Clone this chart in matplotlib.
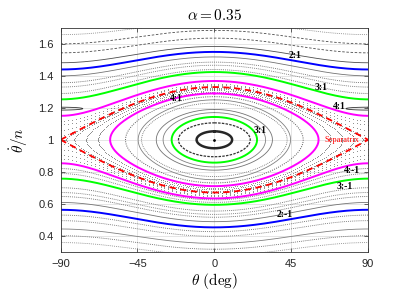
import matplotlib
matplotlib.use("Agg")
import matplotlib.pyplot as plt
from matplotlib.ticker import FormatStrFormatter
import numpy as np

alpha = 0.35

# resonance curves (rotational): value at theta=+-90 and at theta=0
res_names = ["2:1", "3:1", "4:1", "4:-1", "3:-1", "2:-1"]
res_y90 = [1.44, 1.253, 1.15, 0.853, 0.757, 0.562]
res_y0 = [1.55, 1.424, 1.368, 0.633, 0.593, 0.452]
res_label_x = [47, 62.7, 73.4, 80.3, 76.3, 41.3]
res_label_y = [1.53, 1.33, 1.21, 0.81, 0.705, 0.53]

# grey rotational orbits, value at theta=+-90
grey_y90 = [1.658, 1.60, 1.544, 1.482, 1.40, 1.357, 1.33, 1.29,
            0.82, 0.789, 0.70, 0.67, 0.645, 0.608, 0.529, 0.494, 0.442, 0.40, 0.357]
rot_amp = 0.33   # modulation

# libration rings around (0, 1): half width (deg), half height
lib_hw = [10.4, 21, 30, 34, 42.6, 44.6, 52]
lib_hh = [0.053, 0.106, 0.17, 0.19, 0.23, 0.25, 0.27]
lib_res_hw = [25, 61]       # 3:1 (green), 4:1 (magenta)
lib_res_hh = [0.143, 0.29]

# separatrix half height at theta = 0
sep_amp = 0.33

# chaotic layer orbits near separatrix
chaos_rot_d = [0.025, 0.06, 0.095, 0.12]
chaos_lib_hw = [68, 75, 82, 87]
chaos_lib_hh = [0.30, 0.31, 0.32, 0.325]

# 4:1 islands at theta = +-90
island_y = 1.195

plt.rcParams["font.family"] = ["Liberation Sans", "DejaVu Sans"]
plt.rcParams["mathtext.fontset"] = "cm"

th = np.linspace(-90, 90, 721)
cth = np.cos(np.radians(th))


def rot_curve(y90, y0):
    d = y90 - 1
    e = y0 - 1
    return 1 + np.sign(d) * np.sqrt(d ** 2 + (e ** 2 - d ** 2) * cth ** 2)


def lib_curve(hw, hh, n=400):
    phi = np.linspace(0, 2 * np.pi, n)
    sm = np.sin(np.radians(hw))
    return np.degrees(np.arcsin(sm * np.sin(phi))), 1 + hh * np.cos(phi)


fig = plt.figure(figsize=(4.15, 2.94), dpi=100)
ax = fig.add_axes([0.146, 0.144, 0.741, 0.761])
ax.grid(True, color="0.88", lw=0.6)
ax.set_axisbelow(True)

dot = (0, (1, 1.3))
grey_styles = [dot, (0, (3, 2)), (0, (3, 2)), "-", "-", dot, dot, dot,
               dot, dot, dot, dot, dot, "-", dot, dot, "-", dot, dot]
grey_cols = ["0.5", "0.3", "0.3", "0.3", "0.45", "0.35", "0.4", "0.35",
             "0.35", "0.4", "0.35", "0.4", "0.35", "0.45", "0.35", "0.4", "0.5", "0.35", "0.5"]
for y90, ls, c in zip(grey_y90, grey_styles, grey_cols):
    y0 = 1 + np.sign(y90 - 1) * np.sqrt((y90 - 1) ** 2 + rot_amp ** 2)
    ax.plot(th, rot_curve(y90, y0), ls=ls, color=c, lw=0.6)

lib_styles = ["-", (0, (2, 1)), "-", "-", dot, "-", dot]
lib_cols = ["0.15", "0.2", "0.5", "0.45", "0.4", "0.5", "0.35"]
lib_lw = [1.8, 0.9, 0.6, 0.6, 0.6, 0.6, 0.7]
for hw, hh, ls, c, lw in zip(lib_hw, lib_hh, lib_styles, lib_cols, lib_lw):
    x, y = lib_curve(hw, hh)
    ax.plot(x, y, ls=ls, color=c, lw=lw)

# chaotic layer
for d in chaos_rot_d:
    for s in (1, -1):
        y = 1 + s * np.sqrt(d ** 2 + rot_amp ** 2 * cth ** 2)
        ax.plot(th[::9], y[::9], ".", color="0.3", ms=1.0, mew=0)
for hw, hh in zip(chaos_lib_hw, chaos_lib_hh):
    x, y = lib_curve(hw, hh, 260)
    ax.plot(x, y, ".", color="0.3", ms=1.0, mew=0)

# islands at +-90
for xc in (-90, 90):
    phi = np.linspace(0, 2 * np.pi, 100)
    ax.plot(xc + 13 * np.sin(phi), island_y + 0.009 * np.cos(phi), color="0.2", lw=0.6)

# separatrix
ax.plot(th, 1 + sep_amp * cth, color="red", ls=(0, (3.5, 2.5)), lw=1.3)
ax.plot(th, 1 - sep_amp * cth, color="red", ls=(0, (3.5, 2.5)), lw=1.3)

res_cols = ["blue", "#00ff00", "magenta", "magenta", "#00ff00", "blue"]
for y90, y0, c in zip(res_y90, res_y0, res_cols):
    ax.plot(th, rot_curve(y90, y0), color=c, lw=1.4)
for hw, hh, c in zip(lib_res_hw, lib_res_hh, ["#00ff00", "magenta"]):
    x, y = lib_curve(hw, hh)
    ax.plot(x, y, color=c, lw=1.4)
ax.plot([0], [1], ".", color="k", ms=2)

lab_font = dict(family="Liberation Serif", fontweight="bold", fontsize=7,
                ha="center", va="center")
for name, lx, ly in zip(res_names, res_label_x, res_label_y):
    ax.text(lx, ly, name, **lab_font)
ax.text(-22, 1.256, "4:1", **lab_font)
ax.text(26.6, 1.06, "3:1", **lab_font)
ax.text(74.9, 1.0, "Separatrix", family="Liberation Serif", fontsize=6,
        color="red", ha="center", va="center")

ax.set_xlim(-90, 90)
ax.set_ylim(0.3, 1.7)
ax.set_xticks([-90, -45, 0, 45, 90])
ax.set_yticks([0.4, 0.6, 0.8, 1.0, 1.2, 1.4, 1.6])
ax.yaxis.set_major_formatter(FormatStrFormatter("%g"))
ax.tick_params(direction="in", labelsize=8, length=3, width=0.5, colors="0.15",
               top=True, right=True, pad=5)
for sp in ax.spines.values():
    sp.set_linewidth(0.6)
    sp.set_color("0.2")
ax.set_title(r"$\alpha = 0.35$", fontsize=11, pad=6)
ax.set_xlabel(r"$\theta\ \mathrm{(deg)}$", fontsize=11, labelpad=2)
ax.set_ylabel(r"$\dot{\theta}/n$", fontsize=11, labelpad=6)

fig.savefig("out.png", dpi=100)
